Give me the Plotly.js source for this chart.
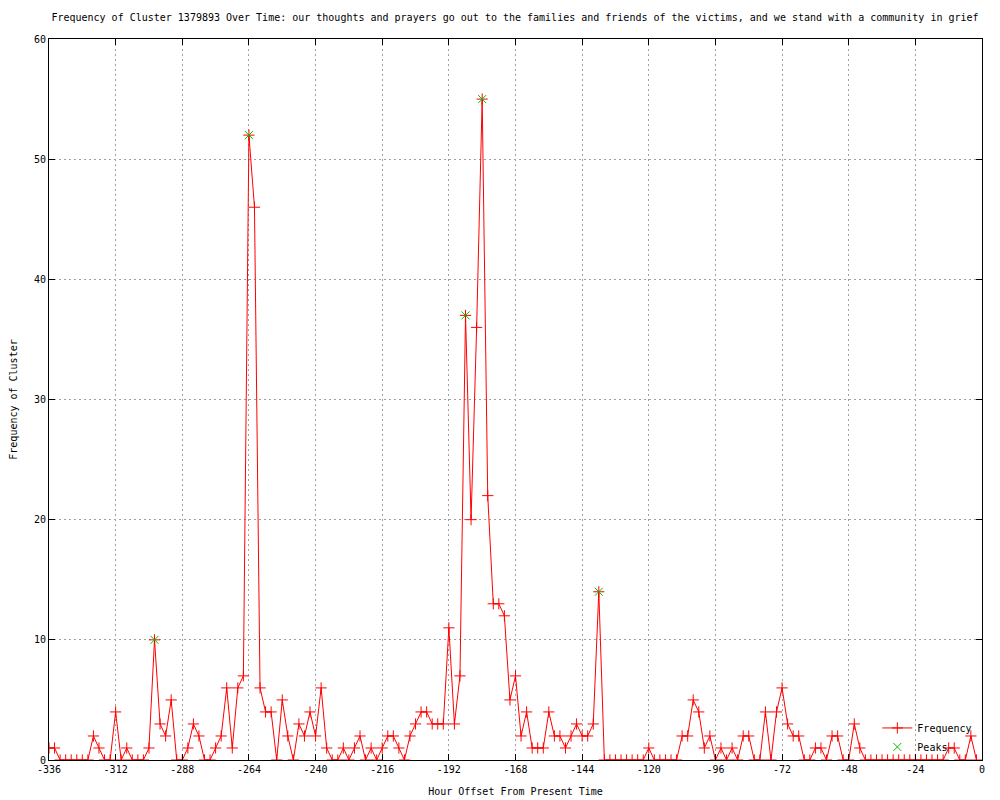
<!DOCTYPE html>
<html>
<head>
<meta charset="utf-8">
<script src="https://cdn.plot.ly/plotly-3.0.1.min.js"></script>
<style>html,body{margin:0;padding:0;background:#fff;}#chart{width:1000px;height:800px;}</style>
</head>
<body>
<div id="chart"></div>
<script>
const hours = [-336,-334,-332,-330,-328,-326,-324,-322,-320,-318,-316,-314,-312,-310,-308,-306,-304,-302,-300,-298,
-296,-294,-292,-290,-288,-286,-284,-282,-280,-278,-276,-274,-272,-270,-268,-266,-264,-262,-260,-258,
-256,-254,-252,-250,-248,-246,-244,-242,-240,-238,-236,-234,-232,-230,-228,-226,-224,-222,-220,-218,
-216,-214,-212,-210,-208,-206,-204,-202,-200,-198,-196,-194,-192,-190,-188,-186,-184,-182,-180,-178,
-176,-174,-172,-170,-168,-166,-164,-162,-160,-158,-156,-154,-152,-150,-148,-146,-144,-142,-140,-138,
-136,-134,-132,-130,-128,-126,-124,-122,-120,-118,-116,-114,-112,-110,-108,-106,-104,-102,-100,-98,
-96,-94,-92,-90,-88,-86,-84,-82,-80,-78,-76,-74,-72,-70,-68,-66,-64,-62,-60,-58,
-56,-54,-52,-50,-48,-46,-44,-42,-40,-38,-36,-34,-32,-30,-28,-26,-24,-22,-20,-18,
-16,-14,-12,-10,-8,-6,-4,-2];
const frequency = [1,1,0,0,0,0,0,0,2,1,0,0,4,0,1,0,0,0,1,10,
3,2,5,0,0,1,3,2,0,0,1,2,6,1,6,7,52,46,6,4,
4,0,5,2,0,3,2,4,2,6,1,0,0,1,0,1,2,0,1,0,
1,2,2,1,0,2,3,4,4,3,3,3,11,3,7,37,20,36,55,22,
13,13,12,5,7,2,4,1,1,1,4,2,2,1,2,3,2,2,3,14,
0,0,0,0,0,0,0,0,1,0,0,0,0,0,2,2,5,4,1,2,
0,1,0,1,0,2,2,0,0,4,0,4,6,3,2,2,0,0,1,1,
0,2,2,0,0,3,1,0,0,0,0,0,0,0,0,0,0,0,0,0,
0,0,1,1,0,0,2,0];
const peakHours = [-298,-264,-186,-180,-138];
const peakValues = [10,52,37,55,14];
const xTicks = [-336,-312,-288,-264,-240,-216,-192,-168,-144,-120,-96,-72,-48,-24,0];
const yTicks = [0,10,20,30,40,50,60];
const titleText = "Frequency of Cluster 1379893 Over Time: our thoughts and prayers go out to the families and friends of the victims, and we stand with a community in grief";

const font = {family: "DejaVu Sans Mono, monospace", size: 10, color: "#000"};

const traces = [
  {
    x: hours, y: frequency, name: "Frequency", type: "scatter", mode: "lines+markers",
    line: {color: "#ff0000", width: 1},
    marker: {symbol: "cross-thin-open", size: 8, color: "#ff0000", line: {color: "#ff0000", width: 1}}
  },
  {
    x: peakHours, y: peakValues, name: "Peaks", type: "scatter", mode: "markers",
    marker: {symbol: "x-thin-open", size: 8, color: "#00c000", line: {color: "#00c000", width: 1}}
  }
];

const axisCommon = {
  showline: true, linecolor: "#000", linewidth: 1, mirror: "ticks",
  ticks: "inside", ticklen: 6, tickcolor: "#000", tickwidth: 1,
  showgrid: true, gridcolor: "#a0a0a0", griddash: "2px,3px", gridwidth: 1,
  zeroline: false, tickfont: font
};

const layout = {
  width: 1000, height: 800,
  margin: {l: 49, r: 18, t: 39, b: 40},
  paper_bgcolor: "#fff", plot_bgcolor: "#fff",
  font: font,
  title: {text: titleText, font: font, x: 0.515, xanchor: "center", y: 0.978, yanchor: "middle"},
  xaxis: Object.assign({}, axisCommon, {
    range: [-336, 0], tickmode: "array", tickvals: xTicks, ticktext: xTicks.map(String),
    title: {text: "Hour Offset From Present Time", font: font, standoff: 13}
  }),
  yaxis: Object.assign({}, axisCommon, {
    range: [0, 60], tickmode: "array", tickvals: yTicks, ticktext: yTicks.map(String),
    title: {text: "Frequency of Cluster", font: font, standoff: 14}
  }),
  showlegend: true,
  legend: {x: 0.995, y: -0.002, xanchor: "right", yanchor: "bottom", bgcolor: "rgba(0,0,0,0)",
           font: font, tracegroupgap: 0, itemwidth: 30}
};

Plotly.newPlot("chart", traces, layout, {displayModeBar: false, staticPlot: true});
</script>
</body>
</html>
